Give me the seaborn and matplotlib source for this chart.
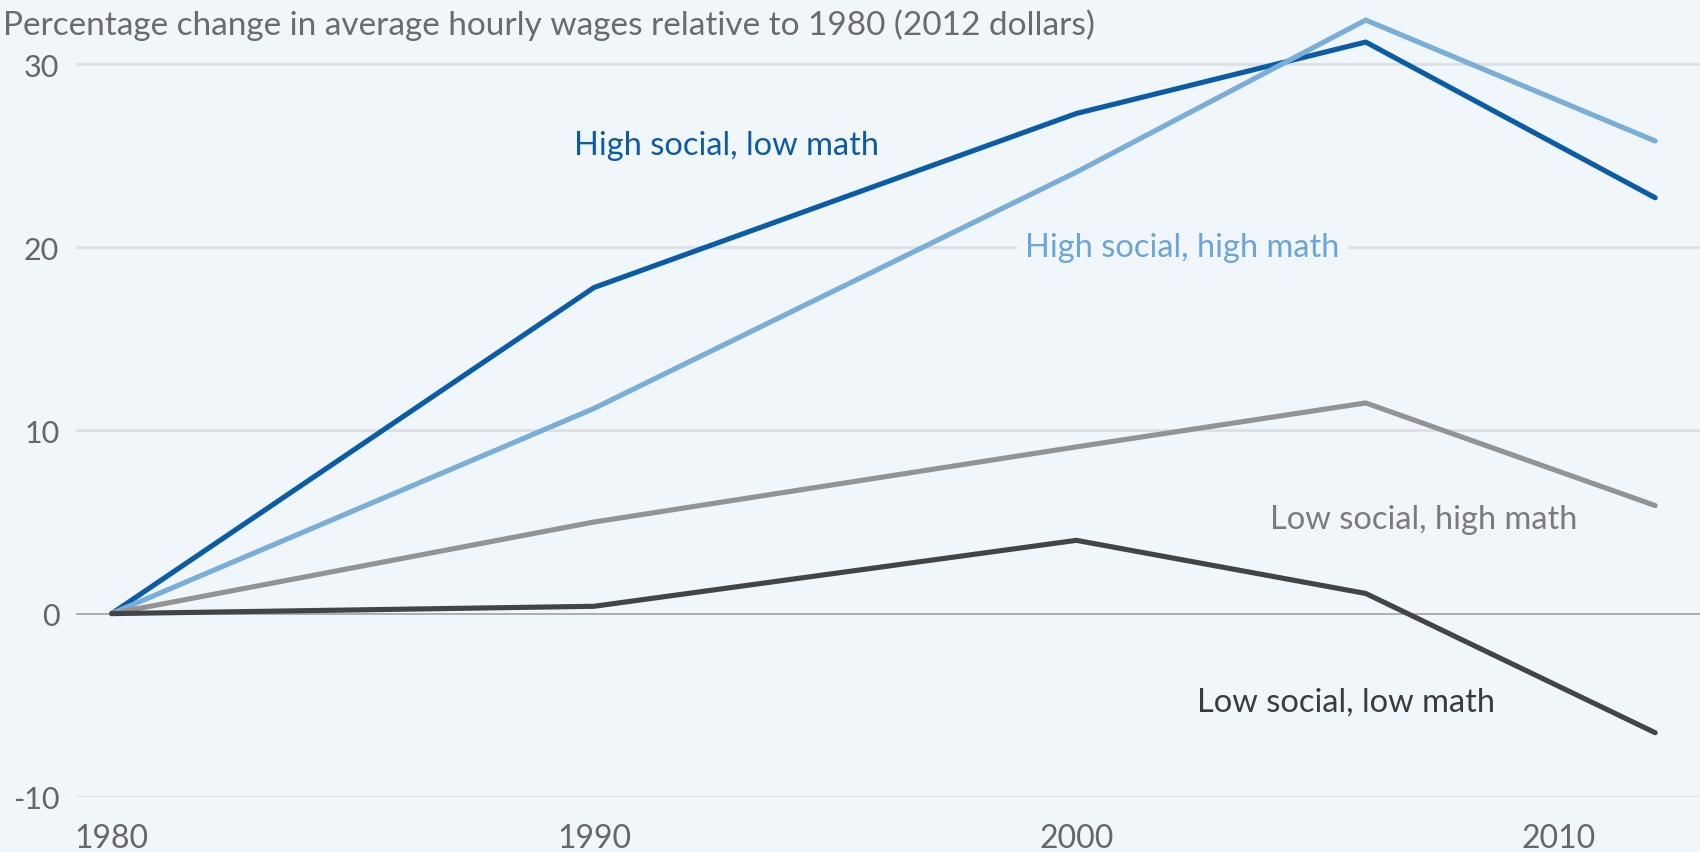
import matplotlib
matplotlib.use("Agg")
import matplotlib.pyplot as plt
import seaborn as sns
import pandas as pd

# ---- data ----
years = [1980, 1990, 2000, 2006, 2012]
high_social_low_math = [0.0, 17.8, 27.3, 31.2, 22.7]
high_social_high_math = [0.0, 11.2, 24.1, 32.4, 25.8]
low_social_high_math = [0.0, 5.0, 9.1, 11.5, 5.9]
low_social_low_math = [0.0, 0.4, 4.0, 1.1, -6.5]

series_names = ["High social, low math", "High social, high math",
                "Low social, high math", "Low social, low math"]
series_values = [high_social_low_math, high_social_high_math,
                 low_social_high_math, low_social_low_math]
x_ticks = [1980, 1990, 2000, 2010]
y_ticks = [-10, 0, 10, 20, 30]
title = "Percentage change in average hourly wages relative to 1980 (2012 dollars)"

# label anchor positions (data coords)
label_x = [1992.74, 2002.2, 2007.2, 2005.6]
label_y = [25.6, 20.0, 5.15, -4.8]

line_colors = ["#0b5ca6", "#78aed8", "#939393", "#444446"]
text_colors = ["#0d5ba3", "#6ba6d6", "#7b7b7b", "#3b3b3b"]
bg = "#f1f6fa"

rows = []
for name, vals in zip(series_names, series_values):
    for yr, v in zip(years, vals):
        rows.append({"year": yr, "value": v, "series": name})
df = pd.DataFrame(rows)

sns.set_theme(style="white")
plt.rcParams["font.family"] = ["Lato", "DejaVu Sans"]

fig = plt.figure(figsize=(17, 8.53), dpi=100)
fig.patch.set_facecolor(bg)
ax = fig.add_axes([0.0447, 0.0647, 0.9553, 0.9353])
ax.set_facecolor(bg)

sns.lineplot(data=df, x="year", y="value", hue="series", hue_order=series_names,
             palette=dict(zip(series_names, line_colors)), linewidth=3.7,
             legend=False, ax=ax, zorder=3, solid_capstyle="round")

ax.set_xlim(1979.26, 2012.93)
ax.set_ylim(-10, 33.55)

for s in ax.spines.values():
    s.set_visible(False)

ax.set_yticks(y_ticks)
ax.set_yticklabels([str(t) for t in y_ticks])
ax.set_xticks(x_ticks)
ax.set_xticklabels([str(t) for t in x_ticks])
ax.tick_params(axis="y", length=0, pad=12, labelsize=22, labelcolor="#666666")
ax.tick_params(axis="x", length=10, width=1.2, color="#c9cbcf", pad=9,
               labelsize=23, labelcolor="#666666", direction="out")
ax.set_xlabel("")
ax.set_ylabel("")

for t in y_ticks:
    if t == 0:
        ax.axhline(t, color="#a6a8ab", lw=1.3, zorder=2)
    else:
        ax.axhline(t, color="#dcdfe4", lw=2.0, zorder=1)

for name, lx, ly, c in zip(series_names, label_x, label_y, text_colors):
    ax.text(lx, ly, name, color=c, fontsize=23.5, ha="center", va="center",
            zorder=2.5,
            bbox=dict(facecolor=bg, edgecolor="none", pad=6))

fig.text(0.002, 1 - 25 / 853, title, fontsize=24, color="#6b6b6b",
         ha="left", va="center")

fig.savefig("out.png", dpi=100, facecolor=bg)
